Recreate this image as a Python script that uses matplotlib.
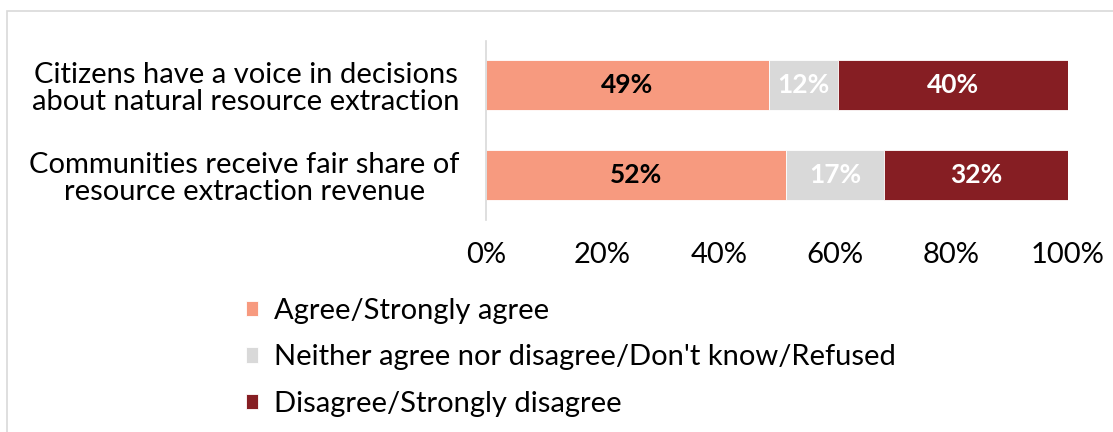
import matplotlib.pyplot as plt
from matplotlib.patches import Rectangle

# survey statements (top to bottom)
statements = [
    "Citizens have a voice in decisions\nabout natural resource extraction",
    "Communities receive fair share of\nresource extraction revenue",
]
agree = [48.6, 51.6]
neutral = [11.8, 16.8]
disagree = [39.6, 31.6]

series_names = [
    "Agree/Strongly agree",
    "Neither agree nor disagree/Don't know/Refused",
    "Disagree/Strongly disagree",
]
colors = ["#F79A7F", "#D9D9D9", "#861E23"]
label_colors = ["black", "white", "white"]

plt.rcParams["font.family"] = ["Lato", "DejaVu Sans"]

fig = plt.figure(figsize=(11.13, 4.32), dpi=100)
ax = fig.add_axes([486 / 1113, 1 - 220 / 432, (1068 - 486) / 1113, 179 / 432])

# light frame round the chart area
fig.patches.append(Rectangle((7 / 1113, -0.1), 1.2, 0.1 + (1 - 11 / 432),
                             transform=fig.transFigure, fill=False,
                             edgecolor="#D9D9D9", linewidth=1.2))

ypos = list(range(len(statements)))
left = [0] * len(statements)
handles = []
for vals, name, col, lcol in zip([agree, neutral, disagree], series_names, colors, label_colors):
    bars = ax.barh(ypos, vals, left=left, height=0.556, color=col,
                   edgecolor="white", linewidth=0.6, label=name)
    handles.append(bars)
    for y, v, l in zip(ypos, vals, left):
        ax.text(l + v / 2, y, f"{round(v):.0f}%", ha="center", va="center",
                color=lcol, fontsize=19, fontweight="bold")
    left = [a + b for a, b in zip(left, vals)]

ax.set_xlim(0, 100)
ax.set_ylim(1.5, -0.49)
ax.set_xticks([0, 20, 40, 60, 80, 100])
ax.set_xticklabels([f"{t}%" for t in [0, 20, 40, 60, 80, 100]], fontsize=21)
ax.set_yticks(ypos)
ax.set_yticklabels(statements, fontsize=21, linespacing=1.05)
ax.tick_params(axis="both", length=0)
ax.tick_params(axis="x", pad=16)
ax.tick_params(axis="y", pad=19)
for lbl in ax.get_yticklabels():
    lbl.set_multialignment("center")
for side in ["top", "right", "bottom"]:
    ax.spines[side].set_visible(False)
ax.spines["left"].set_color("#D9D9D9")
ax.spines["left"].set_linewidth(1.2)

fig.legend(handles=handles, loc="upper left", bbox_to_anchor=(246 / 1113, 1 - 298 / 432),
           frameon=False, fontsize=21, handlelength=0.4, handleheight=0.45,
           handletextpad=0.55, labelspacing=0.7, borderaxespad=0, borderpad=0)

fig.savefig("out.png", dpi=100)
